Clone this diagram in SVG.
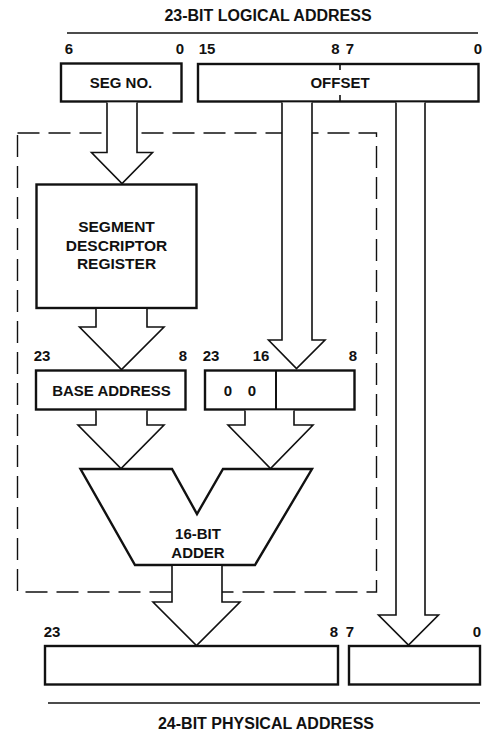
<svg xmlns="http://www.w3.org/2000/svg" width="483" height="732" viewBox="0 0 483 732">
  <style>
    text { font-family: "Liberation Sans", Arial, sans-serif; font-weight: bold; fill: #111; }
    .t { font-size: 16px; text-anchor: middle; }
    .lbl { font-size: 15px; text-anchor: middle; }
    .num { font-size: 15px; text-anchor: middle; }
    .box { fill: #fff; stroke: #111; stroke-width: 2.4; }
    .arrow { fill: #fff; stroke: #111; stroke-width: 1.6; stroke-linejoin: miter; }
    .rule { stroke: #111; stroke-width: 1.4; fill: none; }
    .dash { fill: none; stroke: #111; stroke-width: 1.4; stroke-dasharray: 22 9; }
  </style>
  <rect width="483" height="732" fill="#fff"/>

  <!-- logical address heading -->
  <g id="logical-heading">
    <text class="t" x="268" y="21">23-BIT LOGICAL ADDRESS</text>
    <line class="rule" x1="67" y1="33" x2="478" y2="33"/>
    <text class="num" x="69" y="54">6</text>
    <text class="num" x="180" y="54">0</text>
    <text class="num" x="207" y="54">15</text>
    <text class="num" x="335.5" y="54">8</text>
    <text class="num" x="350" y="54">7</text>
    <text class="num" x="478" y="54">0</text>
  </g>

  <!-- translation unit boundary -->
  <rect id="mmu-boundary" class="dash" x="17.5" y="133" width="359" height="459"/>

  <g id="seg-no">
    <rect class="box" x="61" y="63.5" width="120.5" height="38"/>
    <text class="lbl" x="121" y="88">SEG NO.</text>
  </g>

  <g id="offset">
    <rect class="box" x="198" y="64" width="280.5" height="37.5"/>
    <line stroke="#111" stroke-width="1.6" x1="340" y1="64" x2="340" y2="70"/>
    <line stroke="#111" stroke-width="1.6" x1="340" y1="95" x2="340" y2="101.5"/>
    <text class="lbl" x="340" y="88">OFFSET</text>
  </g>

  <g id="segment-descriptor-register">
    <rect class="box" x="36.5" y="184.5" width="160" height="123.5"/>
    <text class="lbl" x="116.5" y="232" style="font-size:15.5px">SEGMENT</text>
    <text class="lbl" x="116.5" y="251" style="font-size:15.5px">DESCRIPTOR</text>
    <text class="lbl" x="116.5" y="269" style="font-size:15.5px">REGISTER</text>
  </g>

  <!-- bit positions above the adder inputs -->
  <g id="input-bits">
    <text class="num" x="42" y="361">23</text>
    <text class="num" x="183" y="361">8</text>
    <text class="num" x="211" y="361">23</text>
    <text class="num" x="261" y="361">16</text>
    <text class="num" x="353" y="361">8</text>
  </g>

  <g id="base-address">
    <rect class="box" x="36" y="370.5" width="149.5" height="39"/>
    <text class="lbl" x="111.5" y="396">BASE ADDRESS</text>
  </g>

  <g id="offset-high">
    <rect class="box" x="205" y="370.5" width="149.5" height="39"/>
    <line stroke="#111" stroke-width="2" x1="276" y1="370.5" x2="276" y2="409.5"/>
    <text class="num" x="228" y="396">0</text>
    <text class="num" x="252" y="396">0</text>
  </g>

  <g id="adder">
    <path class="box" d="M80.5,469 L172,469 L197,514 L223,469 L312,469 L255,565 L135,565 Z" stroke-width="2.6"/>
    <text class="lbl" x="198" y="539">16-BIT</text>
    <text class="lbl" x="198" y="558">ADDER</text>
  </g>

  <!-- bit positions of the physical address -->
  <g id="output-bits">
    <text class="num" x="52" y="637">23</text>
    <text class="num" x="334" y="637">8</text>
    <text class="num" x="350" y="637">7</text>
    <text class="num" x="477" y="637">0</text>
  </g>

  <g id="physical-high">
    <rect class="box" x="45" y="646" width="293" height="38.5"/>
  </g>
  <g id="physical-low">
    <rect class="box" x="349" y="646" width="131" height="38.5"/>
  </g>

  <g id="physical-heading">
    <line class="rule" x1="48" y1="703" x2="480" y2="703"/>
    <text class="t" x="266" y="729">24-BIT PHYSICAL ADDRESS</text>
  </g>

  <!-- wide data-path arrows -->
  <g id="connectors">
    <path class="arrow" d="M107,102.5 V152.5 H91.5 L122,183.5 L152.5,152.5 H137 V102.5"/>
    <path class="arrow" d="M96,309 V327 H79.5 L121.5,369.5 L164,327 H147 V309"/>
    <path class="arrow" d="M282,102.5 V340 H268.5 L296.5,368.5 L325,340 H312 V102.5"/>
    <path class="arrow" d="M396,102.5 V615 H378.5 L408.5,645 L438.5,615 H425 V102.5"/>
    <path class="arrow" d="M96,410.5 V425 H78 L121,468.5 L164,425 H147 V410.5"/>
    <path class="arrow" d="M245,410.5 V425 H228 L270.5,468.5 L313,425 H294 V410.5"/>
    <path class="arrow" d="M172,566 V602 H153 L196.5,645.5 L240,602 H222 V566"/>
  </g>
</svg>
